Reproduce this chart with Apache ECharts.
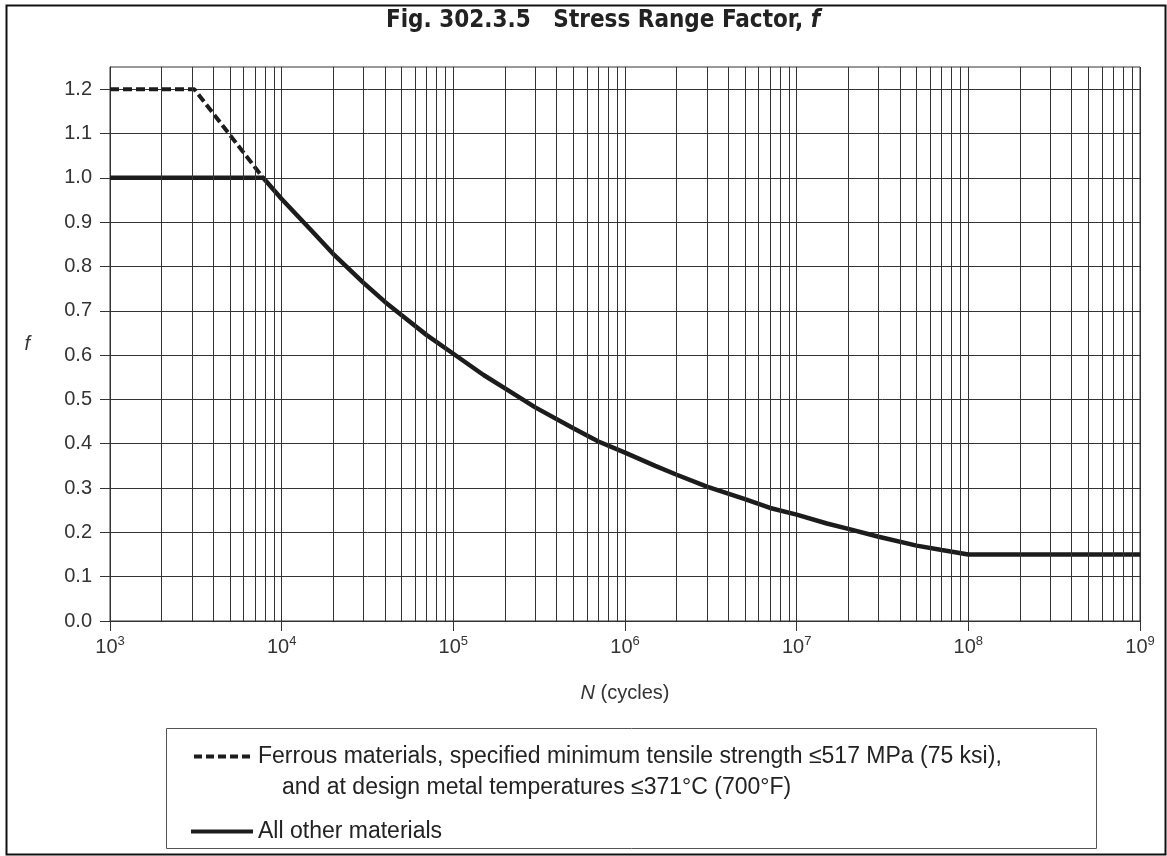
<!DOCTYPE html>
<html><head><meta charset="utf-8">
<script src="https://cdn.jsdelivr.net/npm/echarts@6/dist/echarts.min.js"></script>
<style>html,body{margin:0;padding:0;background:#fff}#c{width:1167px;height:856px}</style>
</head><body><div id="c"></div>
<script>
// ---- data ----
const yTickValues = [0, 0.1, 0.2, 0.3, 0.4, 0.5, 0.6, 0.7, 0.8, 0.9, 1.0, 1.1, 1.2];
const xDecadeValues = [1e3, 1e4, 1e5, 1e6, 1e7, 1e8, 1e9];
const minorMultipliers = [2, 3, 4, 5, 6, 7, 8, 9];
const ferrousN = [1000, 3100, 7800];
const ferrousF = [1.2, 1.2, 1.0];
const otherN = [1000, 7800, 1e4, 1.5e4, 2e4, 3e4, 4e4, 5e4, 7e4, 1e5, 1.5e5, 2e5, 3e5, 5e5, 7e5, 1e6, 1.5e6, 2e6, 3e6, 5e6, 7e6, 1e7, 1.5e7, 2e7, 3e7, 5e7, 7e7, 1e8, 1e9];
const otherF = [1.0, 1.0, 0.952, 0.88, 0.828, 0.763, 0.72, 0.69, 0.645, 0.603, 0.555, 0.525, 0.482, 0.435, 0.405, 0.38, 0.35, 0.33, 0.303, 0.275, 0.255, 0.24, 0.22, 0.208, 0.19, 0.17, 0.16, 0.15, 0.15];
const titleText = 'Fig. 302.3.5   Stress Range Factor, ';
const legendLine1 = 'Ferrous materials, specified minimum tensile strength \u2264517 MPa (75 ksi),';
const legendLine2 = 'and at design metal temperatures \u2264371\u00B0C (700\u00B0F)';
const legendOther = 'All other materials';

const minorGrid = [];
for (let i = 0; i < xDecadeValues.length - 1; i++) {
  for (const m of minorMultipliers) minorGrid.push(m * xDecadeValues[i]);
}
const pair = (xs, ys) => xs.map((x, i) => [x, ys[i]]);

const SANS = "'Liberation Sans', Arial, sans-serif";
const COND = "'Liberation Sans Narrow', 'DejaVu Sans Condensed', 'Open Sans', sans-serif";
const GRID = '#333';
const INK = '#1c1c1c';
const DASH_ICON = 'path://M0,0h8v4h-8z M12,0h8v4h-8z M24,0h8v4h-8z M36,0h8v4h-8z M48,0h8v4h-8z';

const chart = echarts.init(document.getElementById('c'), null, {renderer: 'canvas'});
chart.setOption({
  animation: false,
  backgroundColor: '#fff',
  title: {
    text: titleText + '{i|f}',
    left: 598, textAlign: 'center', top: 4,
    textStyle: {fontFamily: COND, fontWeight: 'bold', fontSize: 24, color: '#222',
      rich: {i: {fontFamily: COND, fontWeight: 'bold', fontStyle: 'italic', fontSize: 24, color: '#222'}}}
  },
  grid: {left: 110, right: 27, top: 67, bottom: 235, show: true, borderColor: GRID, borderWidth: 1},
  xAxis: {
    type: 'log', logBase: 10, min: 1e3, max: 1e9, splitNumber: 6,
    name: '{i|N} (cycles)', nameLocation: 'middle', nameGap: 62,
    nameTextStyle: {fontFamily: SANS, fontSize: 20, color: '#333',
      rich: {i: {fontFamily: SANS, fontStyle: 'italic', fontSize: 20, color: '#333'}}},
    axisLine: {show: true, lineStyle: {color: GRID, width: 1}},
    axisTick: {show: true, length: 10, lineStyle: {color: GRID, width: 1}},
    splitLine: {show: true, lineStyle: {color: GRID, width: 1}},
    axisLabel: {
      margin: 14, color: '#333',
      formatter: v => '{b|10}{s|' + Math.round(Math.log10(v)) + '}',
      rich: {b: {fontFamily: SANS, fontSize: 20, color: '#333'},
             s: {fontFamily: SANS, fontSize: 13, color: '#333', padding: [0, 0, 11, 0]}}
    }
  },
  yAxis: {
    type: 'value', min: 0, max: 1.25, interval: 0.1,
    name: 'f', nameLocation: 'middle', nameGap: 80, nameRotate: 0,
    nameTextStyle: {fontFamily: SANS, fontStyle: 'italic', fontSize: 20, color: '#333'},
    axisLine: {show: true, lineStyle: {color: GRID, width: 1}},
    axisTick: {show: true, length: 10, customValues: yTickValues, lineStyle: {color: GRID, width: 1}},
    splitLine: {show: true, lineStyle: {color: GRID, width: 1}},
    axisLabel: {customValues: yTickValues, margin: 18, fontFamily: SANS, fontSize: 20, color: '#333',
      formatter: v => v.toFixed(1)}
  },
  legend: {
    orient: 'vertical', left: 186, top: 740, itemWidth: 62, itemHeight: 4, itemGap: 52,
    textStyle: {fontFamily: SANS, fontSize: 23, color: '#222'},
    data: [
      {name: legendLine1, icon: DASH_ICON, itemStyle: {color: INK}},
      {name: legendOther, icon: 'rect', itemStyle: {color: INK}}
    ]
  },
  graphic: [
    {type: 'rect', left: 4, top: 3, shape: {width: 1159, height: 849}, style: {fill: 'none', stroke: '#111', lineWidth: 2}, silent: true, z: 100},
    {type: 'rect', left: 164, top: 726, shape: {width: 930, height: 120}, style: {fill: 'none', stroke: '#555', lineWidth: 1}, silent: true},
    {type: 'text', left: 282, top: 776, style: {text: legendLine2, font: "23px 'Liberation Sans', Arial, sans-serif", fill: '#222'}, silent: true}
  ],
  series: [
    {
      name: 'minor-grid', type: 'line', data: [], z: 1, silent: true,
      markLine: {silent: true, symbol: ['none', 'none'], label: {show: false}, animation: false,
        lineStyle: {color: GRID, width: 1, type: 'solid'},
        data: minorGrid.map(v => ({xAxis: v}))}
    },
    {
      name: legendLine1, type: 'line', z: 3, data: pair(ferrousN, ferrousF), showSymbol: false, symbol: 'none',
      lineStyle: {color: INK, width: 4, type: [9, 4]}, itemStyle: {color: INK}
    },
    {
      name: legendOther, type: 'line', z: 4, data: pair(otherN, otherF), showSymbol: false, symbol: 'none',
      lineStyle: {color: INK, width: 4.5, type: 'solid'}, itemStyle: {color: INK}
    }
  ]
});
</script></body></html>
